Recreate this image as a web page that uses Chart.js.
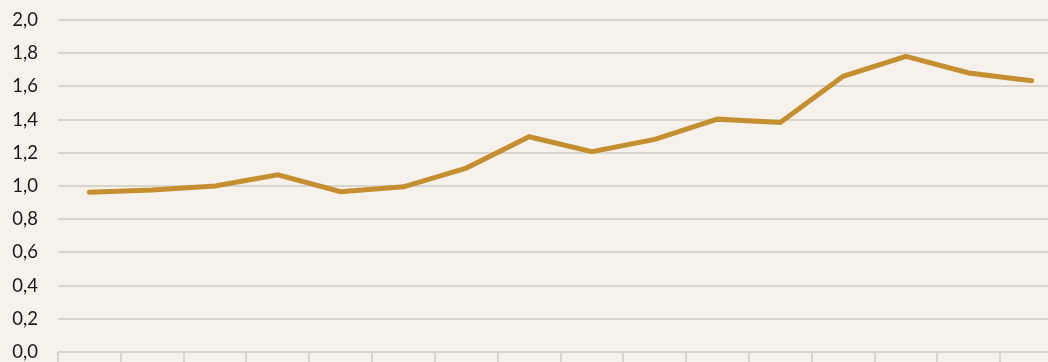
<!DOCTYPE html>
<html>
<head>
<meta charset="utf-8">
<script src="https://cdn.jsdelivr.net/npm/chart.js@4"></script>
<style>
  html, body { margin: 0; padding: 0; overflow: hidden; background: #f6f2eb; }
  #wrap { position: relative; width: 1063px; height: 394px; margin-top: -11px; }
</style>
</head>
<body>
<div id="wrap"><canvas id="lineChart"></canvas></div>
<script>
// 16 periods, values in the series below
const periods = ['1', '2', '3', '4', '5', '6', '7', '8', '9', '10', '11', '12', '13', '14', '15', '16'];
const seriesValues = [0.962, 0.976, 1.0, 1.067, 0.966, 0.995, 1.108, 1.297, 1.207, 1.281, 1.403, 1.383, 1.661, 1.781, 1.681, 1.635];
const yTicks = [0, 0.2, 0.4, 0.6, 0.8, 1.0, 1.2, 1.4, 1.6, 1.8, 2.0];

const gridColor = '#d9d4cc';
const lineColor = '#c48f31';

const ctx = document.getElementById('lineChart').getContext('2d');
new Chart(ctx, {
    type: 'line',
    data: {
        labels: periods,
        datasets: [{
            data: seriesValues,
            borderColor: lineColor,
            borderWidth: 5,
            borderCapStyle: 'round',
            borderJoinStyle: 'miter',
            pointRadius: 0,
            tension: 0,
            fill: false
        }]
    },
    options: {
        responsive: true,
        maintainAspectRatio: false,
        animation: false,
        layout: { padding: { top: 6.5, right: 0, bottom: 0, left: 0 } },
        plugins: {
            legend: { display: false },
            tooltip: { enabled: false }
        },
        scales: {
            x: {
                offset: true,
                border: { display: false },
                grid: {
                    offset: true,
                    drawOnChartArea: false,
                    drawTicks: true,
                    tickLength: 10,
                    color: gridColor,
                    lineWidth: 2
                },
                ticks: { display: false },
                afterFit: function(scale) { scale.height = 10; }
            },
            y: {
                min: 0,
                max: 2,
                border: { display: false },
                grid: {
                    drawTicks: false,
                    color: gridColor,
                    lineWidth: 2
                },
                afterBuildTicks: function(scale) {
                    scale.ticks = yTicks.map(v => ({ value: v }));
                },
                ticks: {
                    padding: 20,
                    color: '#1a1a1a',
                    font: { family: 'Lato', size: 18.5 },
                    callback: function(value) {
                        return value.toFixed(1).replace('.', ',');
                    }
                },
                afterFit: function(scale) { scale.width = 58; }
            }
        }
    }
});
</script>
</body>
</html>
